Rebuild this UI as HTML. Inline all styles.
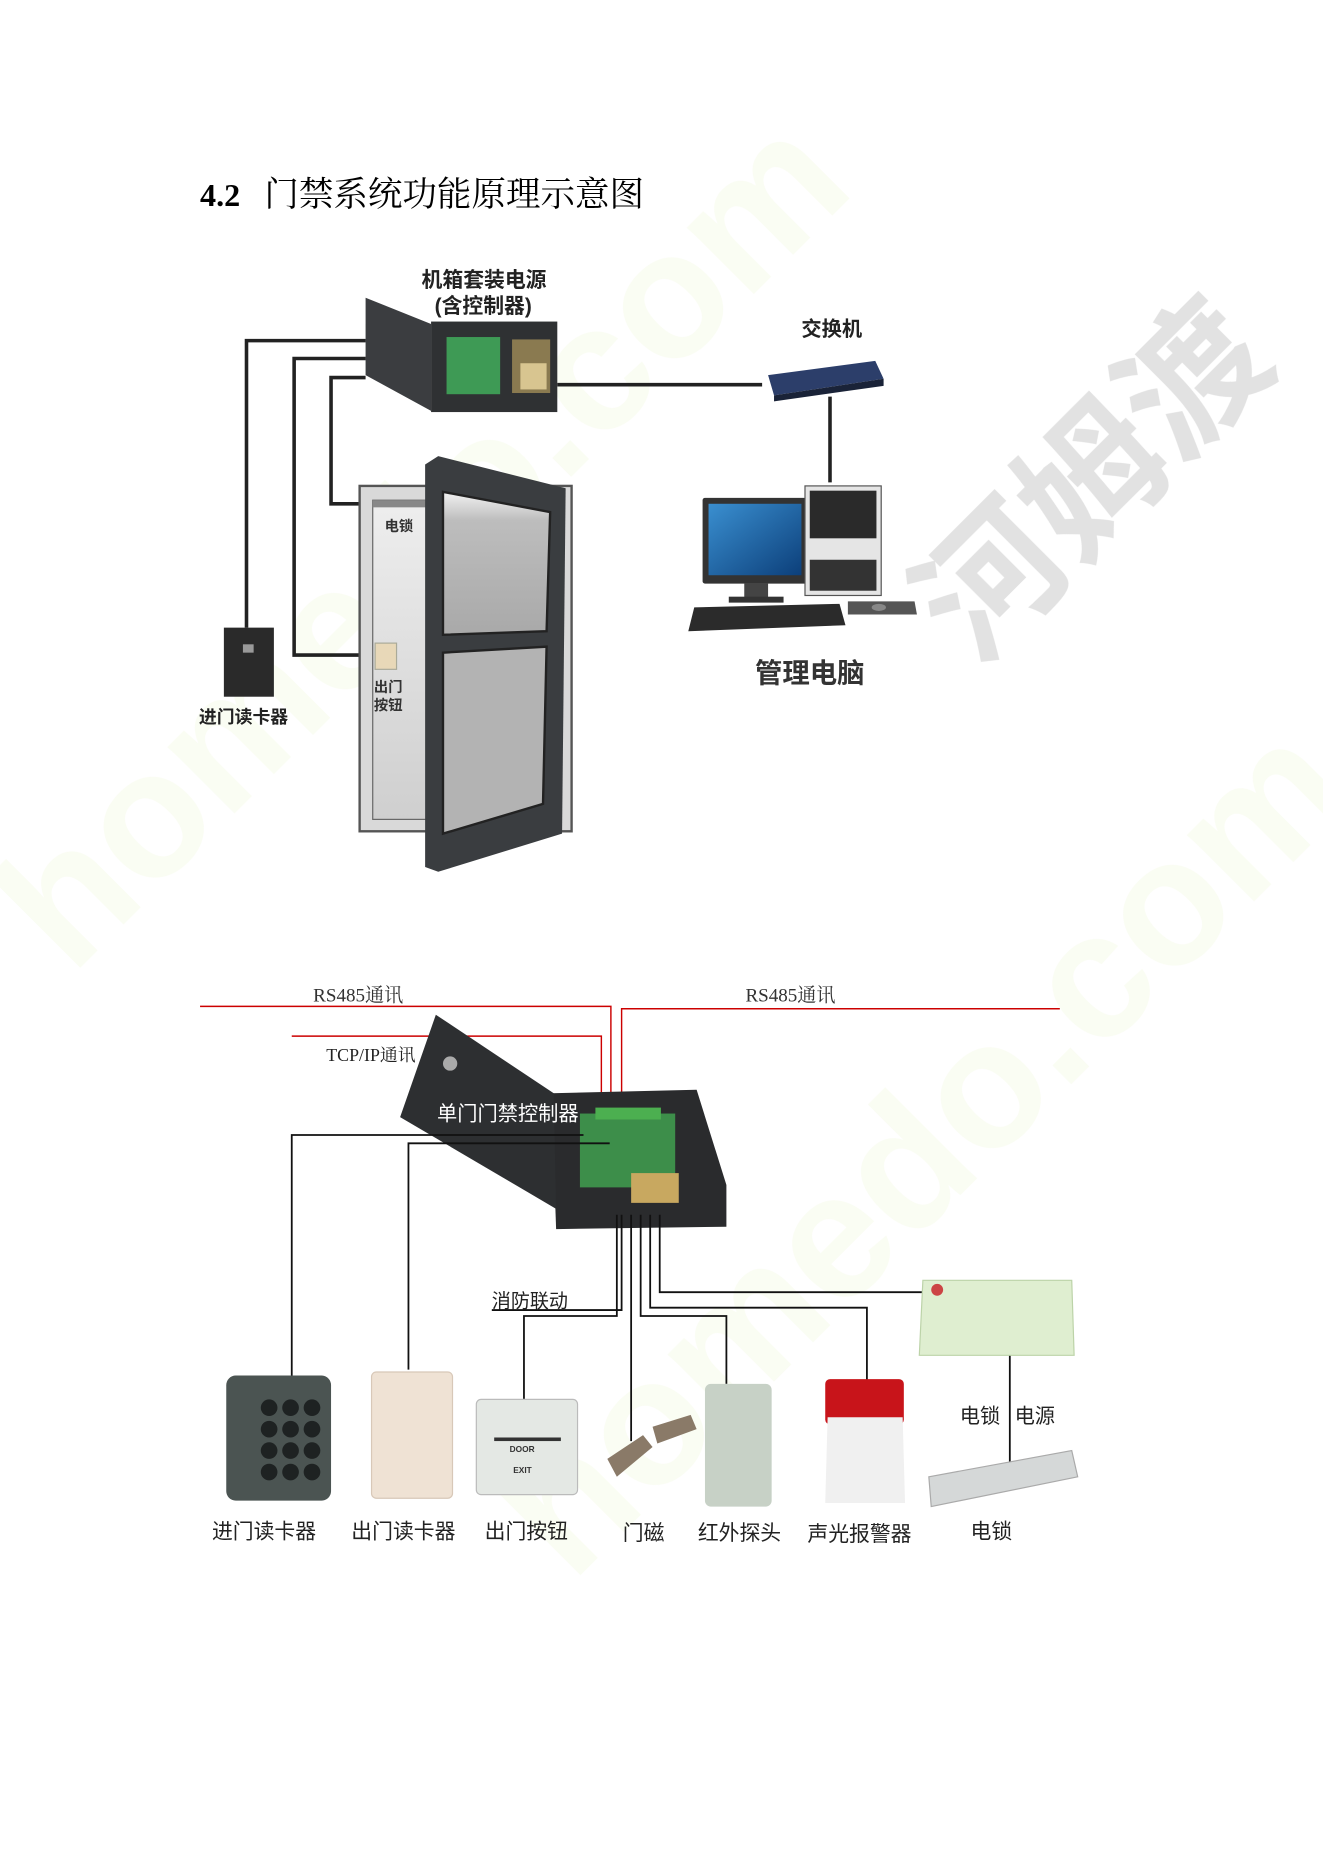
<!DOCTYPE html>
<html><head><meta charset="utf-8"><style>
html,body{margin:0;padding:0;background:#fff}
svg{display:block}
text{font-family:"Liberation Sans","Noto Sans CJK SC",sans-serif}
.b{font-weight:bold}
.s{font-family:"Liberation Serif","Noto Serif CJK SC",serif}
</style></head><body>
<svg width="1323" height="1871" viewBox="0 0 1111 1571" preserveAspectRatio="none" xmlns="http://www.w3.org/2000/svg">
<defs>
<linearGradient id="wall" x1="0" y1="0" x2="0" y2="1"><stop offset="0" stop-color="#eee"/><stop offset="1" stop-color="#cfcfcf"/></linearGradient>
<linearGradient id="glass" x1="0" y1="0" x2="0" y2="1"><stop offset="0" stop-color="#f2f2f2"/><stop offset="0.2" stop-color="#bdbdbd"/><stop offset="1" stop-color="#a9a9a9"/></linearGradient>
<linearGradient id="scr" x1="0" y1="0" x2="1" y2="1"><stop offset="0" stop-color="#3a8fd0"/><stop offset="1" stop-color="#0c3f7a"/></linearGradient>
</defs>
<g opacity="0.07" font-size="150" font-weight="bold">
<text x="60" y="820" transform="rotate(-45 60 820)" fill="#b5d94a">homedo.com</text>
<text x="480" y="1330" transform="rotate(-45 480 1330)" fill="#b5d94a">homedo.com</text>
</g>
<text x="820" y="560" transform="rotate(-45 820 560)" font-size="120" font-weight="bold" fill="#e2e2e2">河姆渡</text>

<text x="168" y="173" font-size="27" class="s b">4.2</text>
<text x="222" y="173" font-size="29" class="s">门禁系统功能原理示意图</text>

<text x="354" y="241" font-size="17.5" class="b" fill="#222">机箱套装电源</text>
<text x="365" y="263" font-size="17.5" class="b" fill="#222">(含控制器)</text>
<g fill="none" stroke="#222" stroke-width="3">
<polyline points="307,286 207,286 207,527"/>
<polyline points="307,301 247,301 247,550 304,550"/>
<polyline points="307,317 278,317 278,423 304,423"/>
<line x1="468" y1="323" x2="640" y2="323"/>
<line x1="697" y1="333" x2="697" y2="405"/>
</g>
<polygon points="307,250 362,272 362,345 307,315" fill="#3b3d40"/>
<rect x="362" y="270" width="106" height="76" fill="#2f3133"/>
<rect x="375" y="283" width="45" height="48" fill="#3e9a55"/>
<rect x="430" y="285" width="32" height="45" fill="#8a7a50"/>
<rect x="437" y="305" width="22" height="22" fill="#d8c590"/>
<polygon points="645,315 735,303 742,318 650,332" fill="#2c3e6a"/>
<polygon points="650,332 742,318 742,324 650,337" fill="#1a2338"/>
<text x="673" y="282" font-size="17" class="b" fill="#222">交换机</text>
<rect x="590" y="418" width="88" height="72" fill="#333" rx="2"/>
<rect x="595" y="423" width="78" height="60" fill="url(#scr)"/>
<rect x="625" y="490" width="20" height="12" fill="#444"/>
<rect x="612" y="501" width="46" height="5" fill="#333"/>
<rect x="676" y="408" width="64" height="92" fill="#e5e5e5" stroke="#555"/>
<rect x="680" y="412" width="56" height="40" fill="#2a2a2a"/>
<rect x="680" y="470" width="56" height="26" fill="#333"/>
<polygon points="583,510 705,507 710,525 578,530" fill="#2b2b2b"/>
<polygon points="712,505 768,505 770,516 712,516" fill="#555"/>
<ellipse cx="738" cy="510" rx="6" ry="3" fill="#888"/>
<text x="634" y="573" font-size="23" class="b" fill="#333">管理电脑</text>
<rect x="302" y="408" width="178" height="290" fill="#d9d9d9" stroke="#555" stroke-width="2"/>
<rect x="313" y="420" width="157" height="268" fill="url(#wall)" stroke="#666"/>
<rect x="313" y="420" width="60" height="6" fill="#888"/>
<text x="323" y="446" font-size="12" class="b" fill="#333">电锁</text>
<rect x="315" y="540" width="18" height="22" fill="#e8d8b8" stroke="#aa9"/>
<text x="314" y="581" font-size="12" class="b" fill="#333">出门</text>
<text x="314" y="596" font-size="12" class="b" fill="#333">按钮</text>
<polygon points="357,390 368,383 475,410 472,700 368,732 357,728" fill="#3a3d40"/>
<polygon points="372,413 462,430 459,530 372,533" fill="url(#glass)" stroke="#222" stroke-width="2"/>
<polygon points="372,548 459,543 456,675 372,700" fill="#b3b3b3" stroke="#222" stroke-width="2"/>
<rect x="188" y="527" width="42" height="58" fill="#2a2a2a"/>
<rect x="204" y="541" width="9" height="7" fill="#999"/>
<text x="167" y="607" font-size="15" class="b" fill="#222">进门读卡器</text>

<g stroke="#c00" stroke-width="1.2" fill="none">
<polyline points="168,845 513,845 513,935"/>
<polyline points="890,847 522,847 522,935"/>
<polyline points="245,870 505,870 505,935"/>
</g>
<text x="263" y="841" font-size="16" class="s" fill="#333">RS485通讯</text>
<text x="626" y="841" font-size="16" class="s" fill="#333">RS485通讯</text>
<text x="274" y="891" font-size="15" class="s" fill="#222">TCP/IP通讯</text>
<polygon points="463,918 585,915 610,995 610,1030 467,1032" fill="#2a2b2d"/>
<rect x="487" y="935" width="80" height="62" fill="#3d8e4a"/>
<rect x="500" y="930" width="55" height="10" fill="#4caf50"/>
<rect x="530" y="985" width="40" height="25" fill="#c8a860"/>
<polygon points="366,852 465,918 467,1015 336,938" fill="#2d2f31"/>
<circle cx="378" cy="893" r="6" fill="#aaa"/>
<text x="367" y="941" font-size="17" fill="#fff">单门门禁控制器</text>
<g stroke="#111" stroke-width="1.5" fill="none">
<polyline points="490,953 245,953 245,1155"/>
<polyline points="512,960 343,960 343,1150"/>
<polyline points="518,1020 518,1105 440,1105 440,1175"/>
<polyline points="522,1020 522,1100 413,1100"/>
<line x1="530" y1="1020" x2="530" y2="1210"/>
<polyline points="538,1020 538,1105 610,1105 610,1162"/>
<polyline points="546,1020 546,1098 728,1098 728,1160"/>
<polyline points="554,1020 554,1085 780,1085"/>
<line x1="848" y1="1138" x2="848" y2="1230"/>
</g>
<text x="413" y="1098" font-size="16" fill="#222">消防联动</text>
<polygon points="775,1075 900,1075 902,1138 772,1138" fill="#dfeed0" stroke="#bcd3a8"/>
<circle cx="787" cy="1083" r="5" fill="#c44"/>
<rect x="190" y="1155" width="88" height="105" rx="8" fill="#4b5452"/>
<g fill="#1e2222">
<circle cx="226" cy="1182" r="7"/><circle cx="244" cy="1182" r="7"/><circle cx="262" cy="1182" r="7"/>
<circle cx="226" cy="1200" r="7"/><circle cx="244" cy="1200" r="7"/><circle cx="262" cy="1200" r="7"/>
<circle cx="226" cy="1218" r="7"/><circle cx="244" cy="1218" r="7"/><circle cx="262" cy="1218" r="7"/>
<circle cx="226" cy="1236" r="7"/><circle cx="244" cy="1236" r="7"/><circle cx="262" cy="1236" r="7"/>
</g>
<rect x="312" y="1152" width="68" height="106" rx="4" fill="#efe2d4" stroke="#d8c8b8"/>
<rect x="400" y="1175" width="85" height="80" rx="4" fill="#e4e8e4" stroke="#bbb"/>
<rect x="415" y="1207" width="56" height="3" fill="#333"/>
<text x="428" y="1219" font-size="7" class="b" fill="#333">DOOR</text>
<text x="431" y="1237" font-size="7" class="b" fill="#333">EXIT</text>
<polygon points="510,1225 540,1205 548,1215 518,1240" fill="#8a7a68"/>
<polygon points="548,1198 580,1188 585,1200 552,1212" fill="#8a7a68"/>
<rect x="592" y="1162" width="56" height="103" rx="5" fill="#c7d1c6"/>
<rect x="693" y="1158" width="66" height="38" rx="4" fill="#c8141a"/>
<polygon points="695,1190 758,1190 760,1262 693,1262" fill="#f0f0f0"/>
<polygon points="780,1240 900,1218 905,1240 782,1265" fill="#d5d8d8" stroke="#aaa"/>
<text x="806" y="1195" font-size="17" fill="#222">电锁</text>
<text x="852" y="1195" font-size="17" fill="#222">电源</text>
<g font-size="17.5" fill="#222">
<text x="178" y="1292">进门读卡器</text>
<text x="295" y="1292">出门读卡器</text>
<text x="407" y="1292">出门按钮</text>
<text x="523" y="1293">门磁</text>
<text x="586" y="1293">红外探头</text>
<text x="678" y="1294">声光报警器</text>
<text x="815" y="1292">电锁</text>
</g>
</svg>
</body></html>
